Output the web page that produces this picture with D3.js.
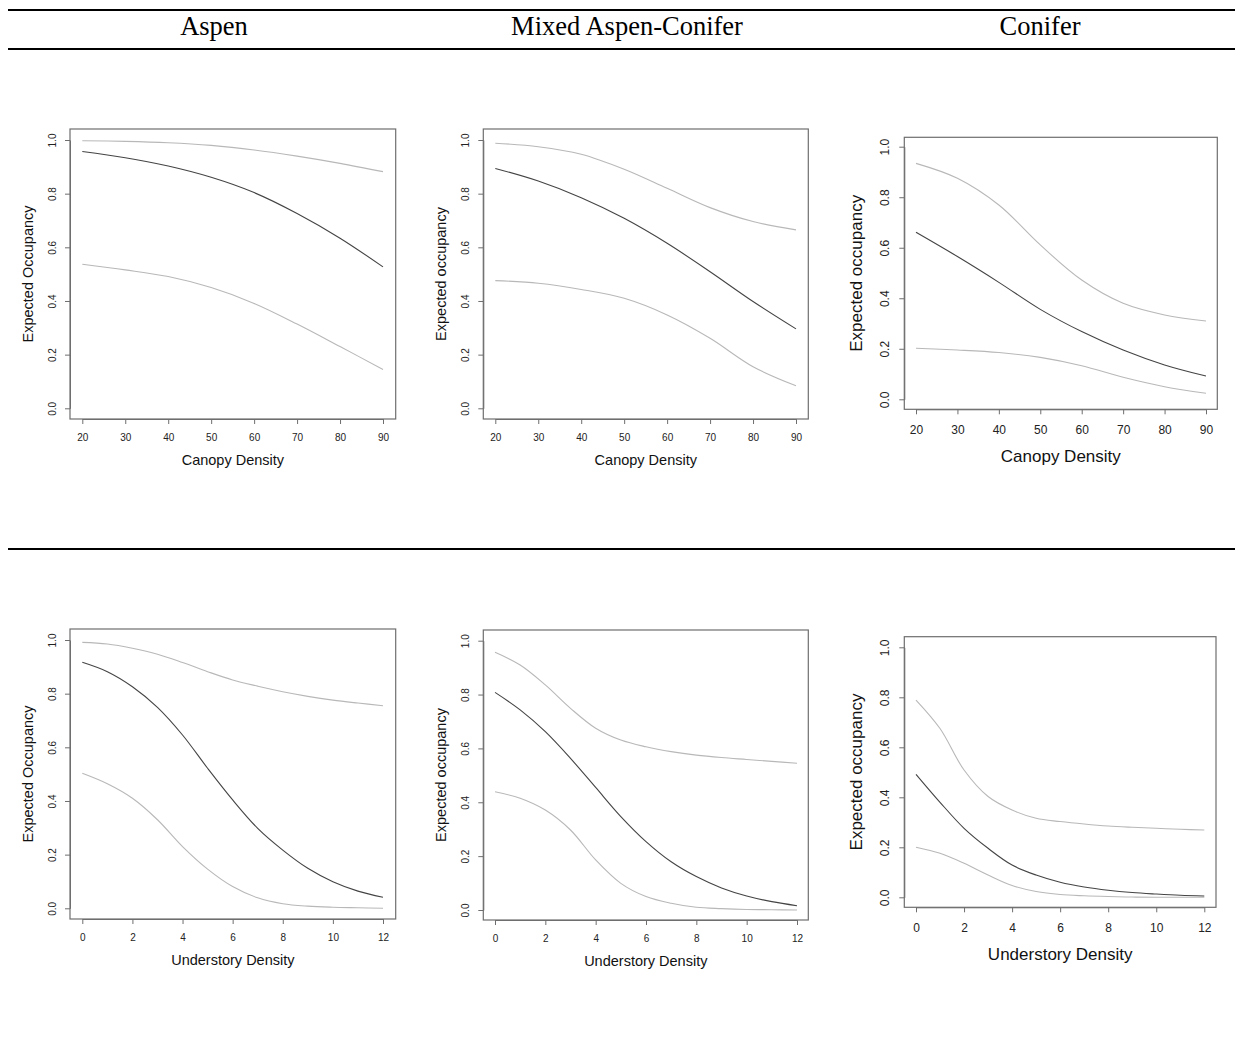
<!DOCTYPE html>
<html>
<head>
<meta charset="utf-8">
<script src="https://cdn.jsdelivr.net/npm/d3@7"></script>
<style>
  html, body { margin: 0; padding: 0; background: #fff; }
  svg { display: block; }
</style>
</head>
<body>
<script>
// ---------------- DATA ----------------
const columnTitles = ["Aspen", "Mixed Aspen-Conifer", "Conifer"];

const canopyX = [20, 30, 40, 50, 60, 70, 80, 90];
const canopyTicks = [20, 30, 40, 50, 60, 70, 80, 90];
const understoryX = [0, 1, 2, 3, 4, 5, 6, 7, 8, 9, 10, 11, 12];
const understoryTicks = [0, 2, 4, 6, 8, 10, 12];
const yTicks = [0.0, 0.2, 0.4, 0.6, 0.8, 1.0];

// Aspen – canopy density
const aspenCanopyUpper = [0.997, 0.995, 0.990, 0.980, 0.963, 0.940, 0.913, 0.882];
const aspenCanopyMean  = [0.957, 0.934, 0.903, 0.861, 0.804, 0.726, 0.634, 0.527];
const aspenCanopyLower = [0.537, 0.516, 0.491, 0.450, 0.391, 0.314, 0.230, 0.145];

// Mixed aspen-conifer – canopy density
const mixedCanopyUpper = [0.988, 0.975, 0.947, 0.891, 0.820, 0.748, 0.696, 0.665];
const mixedCanopyMean  = [0.894, 0.847, 0.785, 0.708, 0.615, 0.509, 0.398, 0.296];
const mixedCanopyLower = [0.476, 0.466, 0.443, 0.410, 0.348, 0.261, 0.155, 0.084];

// Conifer – canopy density
const coniferCanopyUpper = [0.934, 0.875, 0.769, 0.611, 0.472, 0.380, 0.334, 0.310];
const coniferCanopyMean  = [0.661, 0.565, 0.463, 0.356, 0.268, 0.195, 0.136, 0.092];
const coniferCanopyLower = [0.202, 0.195, 0.185, 0.166, 0.133, 0.087, 0.050, 0.024];

// Aspen – understory density
const aspenUnderUpper = [0.991, 0.985, 0.969, 0.947, 0.916, 0.882, 0.851, 0.828, 0.807, 0.790, 0.776, 0.765, 0.755];
const aspenUnderMean  = [0.917, 0.882, 0.826, 0.749, 0.646, 0.522, 0.404, 0.298, 0.217, 0.149, 0.099, 0.064, 0.041];
const aspenUnderLower = [0.503, 0.464, 0.410, 0.330, 0.230, 0.146, 0.081, 0.039, 0.017, 0.008, 0.004, 0.002, 0.000];

// Mixed aspen-conifer – understory density
const mixedUnderUpper = [0.957, 0.910, 0.836, 0.749, 0.675, 0.631, 0.606, 0.588, 0.575, 0.566, 0.559, 0.552, 0.545];
const mixedUnderMean  = [0.808, 0.743, 0.662, 0.563, 0.455, 0.347, 0.254, 0.179, 0.124, 0.082, 0.052, 0.031, 0.016];
const mixedUnderLower = [0.439, 0.415, 0.371, 0.297, 0.186, 0.099, 0.050, 0.025, 0.010, 0.005, 0.002, 0.001, 0.000];

// Conifer – understory density
const coniferUnderUpper = [0.789, 0.675, 0.509, 0.403, 0.349, 0.316, 0.303, 0.293, 0.285, 0.280, 0.276, 0.272, 0.269];
const coniferUnderMean  = [0.492, 0.380, 0.276, 0.196, 0.129, 0.089, 0.060, 0.041, 0.028, 0.019, 0.013, 0.008, 0.005];
const coniferUnderLower = [0.200, 0.176, 0.136, 0.089, 0.047, 0.023, 0.011, 0.006, 0.003, 0.001, 0.000, 0.000, 0.000];

// ---------------- PANELS ----------------
const panels = [
  { x: canopyX, ticks: canopyTicks, dom: [20, 90], xTitle: "Canopy Density", yTitle: "Expected Occupancy",
    upper: aspenCanopyUpper, mean: aspenCanopyMean, lower: aspenCanopyLower,
    box: [70, 129, 395.7, 419], xr: [82.3, 383], yr: [408.3, 140], big: false },
  { x: canopyX, ticks: canopyTicks, dom: [20, 90], xTitle: "Canopy Density", yTitle: "Expected occupancy",
    upper: mixedCanopyUpper, mean: mixedCanopyMean, lower: mixedCanopyLower,
    box: [483.3, 129, 808.3, 419], xr: [495.3, 796], yr: [408.3, 140], big: false },
  { x: canopyX, ticks: canopyTicks, dom: [20, 90], xTitle: "Canopy Density", yTitle: "Expected occupancy",
    upper: coniferCanopyUpper, mean: coniferCanopyMean, lower: coniferCanopyLower,
    box: [904.3, 137.3, 1217.3, 409.3], xr: [916, 1206], yr: [399.3, 146.7], big: true },
  { x: understoryX, ticks: understoryTicks, dom: [0, 12], xTitle: "Understory Density", yTitle: "Expected Occupancy",
    upper: aspenUnderUpper, mean: aspenUnderMean, lower: aspenUnderLower,
    box: [70, 629, 395.7, 919], xr: [82.3, 383], yr: [908.3, 640], big: false },
  { x: understoryX, ticks: understoryTicks, dom: [0, 12], xTitle: "Understory Density", yTitle: "Expected occupancy",
    upper: mixedUnderUpper, mean: mixedUnderMean, lower: mixedUnderLower,
    box: [483.3, 630, 808.3, 920], xr: [495, 797], yr: [910, 640.7], big: false },
  { x: understoryX, ticks: understoryTicks, dom: [0, 12], xTitle: "Understory Density", yTitle: "Expected occupancy",
    upper: coniferUnderUpper, mean: coniferUnderMean, lower: coniferUnderLower,
    box: [904.3, 636.7, 1216, 907.3], xr: [916, 1204.3], yr: [897.3, 647.3], big: true }
];

const W = 1235, H = 1046;
const svg = d3.select("body").append("svg").attr("width", W).attr("height", H)
  .style("font-family", "'Liberation Sans', Arial, sans-serif");

// ---------------- HEADER ----------------
const rule = (y) => svg.append("line").attr("x1", 8).attr("x2", W).attr("y1", y).attr("y2", y)
  .attr("stroke", "#000").attr("stroke-width", 2);
rule(10); rule(49); rule(549);

const titleX = [214, 627, 1040];
columnTitles.forEach((t, i) => {
  svg.append("text").attr("x", titleX[i]).attr("y", 35)
    .attr("text-anchor", "middle")
    .style("font-family", "'Liberation Serif', 'Times New Roman', serif")
    .style("font-size", "26.5px").attr("fill", "#000").text(t);
});

// ---------------- PLOTS ----------------
const boxColor = "#6e6e6e";
panels.forEach(p => {
  const g = svg.append("g");
  const xs = d3.scaleLinear().domain(p.dom).range(p.xr);
  const ys = d3.scaleLinear().domain([0, 1]).range(p.yr);
  const [bx0, by0, bx1, by1] = p.box;
  const tickFont = p.big ? 12 : 10;
  const titleFont = p.big ? 17 : 14.5;
  const xLabOff = p.big ? 21 : 18;
  const xTitleOff = p.big ? 47 : 40.5;
  const yLabOff = p.big ? 20 : 17.5;
  const yTitleOff = p.big ? 48 : 42;

  // x axis
  const xa = g.append("g").attr("transform", `translate(0,${by1})`)
    .call(d3.axisBottom(xs).tickValues(p.ticks).tickSize(5).tickSizeOuter(0).tickFormat(d3.format("d")));
  xa.selectAll("path,line").attr("stroke", boxColor);
  xa.selectAll("text").attr("y", xLabOff).attr("dy", "0.35em")
    .style("font-size", tickFont + "px").attr("fill", "#222")
    .style("font-family", "'Liberation Sans', Arial, sans-serif");

  // y axis
  const ya = g.append("g").attr("transform", `translate(${bx0},0)`)
    .call(d3.axisLeft(ys).tickValues(yTicks).tickSize(5).tickSizeOuter(0).tickFormat(d3.format(".1f")));
  ya.selectAll("path,line").attr("stroke", boxColor);
  ya.selectAll("text").attr("x", null).attr("dy", "0.35em")
    .attr("text-anchor", "middle")
    .attr("transform", `translate(${-yLabOff},0) rotate(-90)`)
    .style("font-size", tickFont + "px").attr("fill", "#222")
    .style("font-family", "'Liberation Sans', Arial, sans-serif");

  // box
  g.append("rect").attr("x", bx0).attr("y", by0).attr("width", bx1 - bx0).attr("height", by1 - by0)
    .attr("fill", "none").attr("stroke", boxColor).attr("stroke-width", 1.2);

  // lines
  const line = d3.line().x((d, i) => xs(p.x[i])).y(d => ys(d)).curve(d3.curveCatmullRom.alpha(0.5));
  [["upper", "#b8b8b8"], ["lower", "#b8b8b8"], ["mean", "#444"]].forEach(([k, c]) => {
    g.append("path").datum(p[k]).attr("d", line).attr("fill", "none")
      .attr("stroke", c).attr("stroke-width", 1.1);
  });

  // titles
  g.append("text").attr("x", (bx0 + bx1) / 2).attr("y", by1 + xTitleOff).attr("dy", "0.35em")
    .attr("text-anchor", "middle").style("font-size", titleFont + "px").attr("fill", "#111")
    .text(p.xTitle);
  const cy = (by0 + by1) / 2;
  g.append("text").attr("transform", `translate(${bx0 - yTitleOff},${cy}) rotate(-90)`)
    .attr("dy", "0.35em").attr("text-anchor", "middle")
    .style("font-size", titleFont + "px").attr("fill", "#111")
    .text(p.yTitle);
});
</script>
</body>
</html>
